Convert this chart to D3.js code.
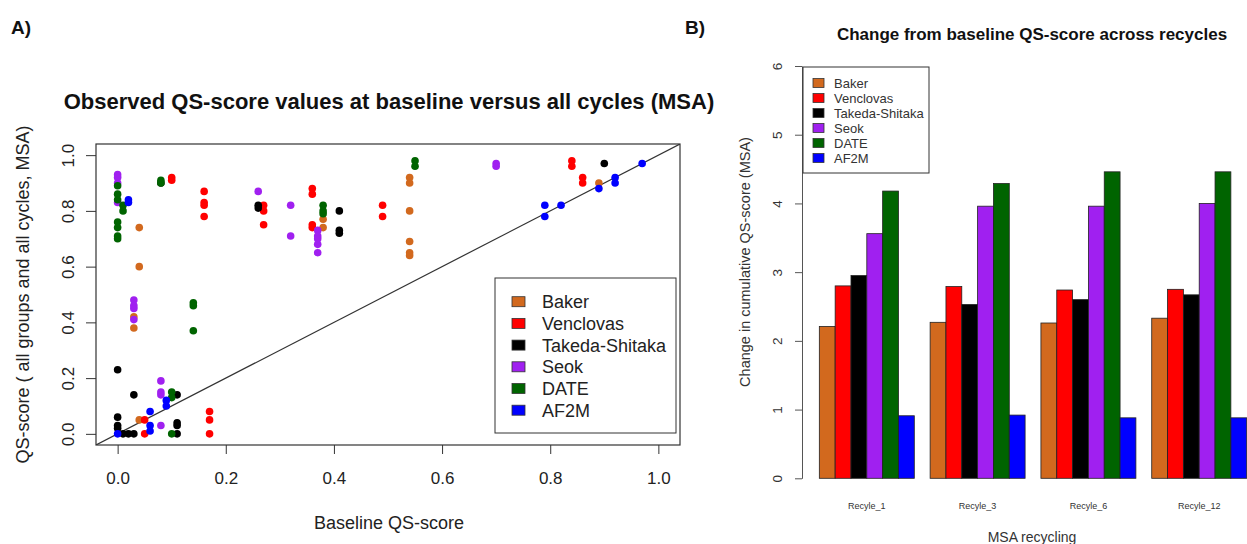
<!DOCTYPE html>
<html>
<head>
<meta charset="utf-8">
<script src="https://cdn.jsdelivr.net/npm/d3@7"></script>
<style>
body { margin: 0; background: #fff; }
text { font-family: "Liberation Sans", Arial, sans-serif; }
</style>
</head>
<body>
<div id="chart"></div>
<script>
var groups = ["Baker", "Venclovas", "Takeda-Shitaka", "Seok", "DATE", "AF2M"];
var colors = ["#D2691E", "#FF0000", "#000000", "#A020F0", "#006400", "#0000FF"];

// panel A: [baseline, cycle] QS-score per group
var bakerPts = [[0.04,0.74],[0.04,0.60],[0.03,0.42],[0.03,0.38],[0.04,0.05],[0.38,0.77],[0.38,0.74],
    [0.54,0.92],[0.54,0.90],[0.54,0.80],[0.54,0.69],[0.54,0.65],[0.54,0.64],[0.89,0.90]];
var venclovasPts = [[0.10,0.92],[0.10,0.91],[0.16,0.87],[0.16,0.83],[0.16,0.82],[0.16,0.78],[0.27,0.82],
    [0.27,0.80],[0.27,0.75],[0.36,0.88],[0.36,0.86],[0.36,0.75],[0.36,0.74],[0.49,0.82],[0.49,0.78],
    [0.84,0.98],[0.84,0.96],[0.86,0.92],[0.86,0.90],[0.05,0.05],[0.05,0.00],[0.17,0.08],[0.17,0.05],[0.17,0.00]];
var takedaPts = [[0.08,0.90],[0.26,0.82],[0.26,0.81],[0.41,0.80],[0.41,0.73],[0.41,0.72],[0.90,0.97],
    [0.00,0.23],[0.03,0.14],[0.00,0.06],[0.00,0.03],[0.00,0.02],[0.01,0.00],[0.02,0.00],[0.03,0.00],
    [0.11,0.14],[0.11,0.04],[0.11,0.03],[0.11,0.00]];
var seokPts = [[0.00,0.93],[0.00,0.92],[0.00,0.90],[0.00,0.83],[0.26,0.87],[0.32,0.82],[0.32,0.71],
    [0.37,0.73],[0.37,0.71],[0.37,0.70],[0.37,0.68],[0.37,0.65],[0.70,0.97],[0.70,0.96],
    [0.03,0.48],[0.03,0.46],[0.03,0.45],[0.03,0.41],[0.08,0.19],[0.08,0.15],[0.08,0.14],[0.08,0.03]];
var datePts = [[0.00,0.89],[0.00,0.86],[0.00,0.84],[0.00,0.76],[0.00,0.74],[0.00,0.71],[0.00,0.70],
    [0.01,0.82],[0.01,0.80],[0.08,0.91],[0.08,0.90],[0.14,0.47],[0.14,0.46],[0.14,0.37],
    [0.10,0.15],[0.10,0.13],[0.10,0.00],[0.38,0.82],[0.38,0.80],[0.38,0.79],[0.55,0.98],[0.55,0.96]];
var af2mPts = [[0.02,0.84],[0.02,0.83],[0.00,0.00],[0.06,0.08],[0.06,0.03],[0.06,0.01],[0.09,0.12],
    [0.09,0.10],[0.79,0.82],[0.79,0.78],[0.82,0.82],[0.89,0.88],[0.92,0.92],[0.92,0.90],[0.97,0.97]];
var ticksA = [0, 0.2, 0.4, 0.6, 0.8, 1.0];

// panel B: change in cumulative QS-score per recycle
var recycles = ["Recyle_1", "Recyle_3", "Recyle_6", "Recyle_12"];
var bakerChange = [2.21, 2.27, 2.26, 2.33];
var venclovasChange = [2.80, 2.79, 2.74, 2.75];
var takedaChange = [2.95, 2.53, 2.60, 2.67];
var seokChange = [3.56, 3.96, 3.96, 4.00];
var dateChange = [4.18, 4.29, 4.46, 4.46];
var af2mChange = [0.91, 0.92, 0.88, 0.88];
var ticksB = [0, 1, 2, 3, 4, 5, 6];

var allPts = [bakerPts, venclovasPts, takedaPts, seokPts, datePts, af2mPts];
var allChange = [bakerChange, venclovasChange, takedaChange, seokChange, dateChange, af2mChange];

var svg = d3.select("#chart").append("svg")
    .attr("width", 1247)
    .attr("height", 544);

svg.append("rect").attr("width", 1247).attr("height", 544).attr("fill", "#fff");

// ---------- panel A ----------
var xA = d3.scaleLinear().domain([-0.04, 1.04]).range([96, 680]);
var yA = d3.scaleLinear().domain([-0.04, 1.04]).range([445, 144]);

svg.append("text").attr("x", 11).attr("y", 34)
    .style("font-size", "19px").style("font-weight", "bold").attr("fill", "#111").text("A)");

svg.append("text").attr("x", 389).attr("y", 109).attr("text-anchor", "middle")
    .style("font-size", "22px").style("font-weight", "bold").attr("fill", "#111")
    .text("Observed QS-score values at baseline versus all cycles (MSA)");

svg.append("clipPath").attr("id", "clipA")
    .append("rect").attr("x", 96).attr("y", 144).attr("width", 584).attr("height", 301);

var gA = svg.append("g").attr("clip-path", "url(#clipA)");

gA.append("line")
    .attr("x1", xA(-0.04)).attr("y1", yA(-0.04))
    .attr("x2", xA(1.04)).attr("y2", yA(1.04))
    .attr("stroke", "#333").attr("stroke-width", 1.2);

allPts.forEach(function (pts, i) {
    gA.selectAll(".pt" + i)
        .data(pts)
        .enter().append("circle")
        .attr("cx", function (d) { return xA(d[0]); })
        .attr("cy", function (d) { return yA(d[1]); })
        .attr("r", 3.8)
        .attr("fill", colors[i]);
});

var axA = svg.append("g")
    .attr("transform", "translate(0,445)")
    .call(d3.axisBottom(xA).tickValues(ticksA).tickFormat(d3.format(".1f"))
        .tickSize(9).tickPadding(18).tickSizeOuter(0));
axA.select(".domain").remove();
axA.selectAll("line").attr("stroke", "#333");
axA.selectAll("text").style("font-size", "17px").attr("fill", "#222")
    .style("font-family", "'Liberation Sans', Arial, sans-serif");

var ayA = svg.append("g")
    .attr("transform", "translate(96,0)")
    .call(d3.axisLeft(yA).tickValues(ticksA).tickFormat(d3.format(".1f"))
        .tickSize(10).tickSizeOuter(0));
ayA.select(".domain").remove();
ayA.selectAll("line").attr("stroke", "#333");
ayA.selectAll("text")
    .attr("x", 0).attr("dy", "0.35em")
    .attr("text-anchor", "middle")
    .attr("transform", "translate(-28,0) rotate(-90)")
    .style("font-size", "17px").attr("fill", "#222")
    .style("font-family", "'Liberation Sans', Arial, sans-serif");

svg.append("rect")
    .attr("x", 96).attr("y", 144).attr("width", 584).attr("height", 301)
    .attr("fill", "none").attr("stroke", "#333").attr("stroke-width", 1.2);

svg.append("text").attr("x", 389).attr("y", 528.5).attr("text-anchor", "middle")
    .style("font-size", "18px").attr("fill", "#222").text("Baseline QS-score");

svg.append("text")
    .attr("transform", "translate(28.5,294.5) rotate(-90)")
    .attr("text-anchor", "middle")
    .style("font-size", "18px").attr("fill", "#222")
    .text("QS-score ( all groups and all cycles, MSA)");

// legend A
svg.append("rect")
    .attr("x", 495).attr("y", 278).attr("width", 181).attr("height", 155)
    .attr("fill", "#fff").attr("stroke", "#333").attr("stroke-width", 1);

var legA = svg.selectAll(".legA")
    .data(groups)
    .enter().append("g")
    .attr("transform", function (d, i) { return "translate(512," + (301.7 + i * 21.7) + ")"; });
legA.append("rect")
    .attr("x", 0).attr("y", -5).attr("width", 13).attr("height", 10)
    .attr("fill", function (d, i) { return colors[i]; })
    .attr("stroke", "#333").attr("stroke-width", 0.8);
legA.append("text")
    .attr("x", 30).attr("dy", "0.36em")
    .style("font-size", "18px").attr("fill", "#222")
    .text(function (d) { return d; });

// ---------- panel B ----------
var yB = d3.scaleLinear().domain([0, 6]).range([478.3, 66]);
var x0 = d3.scaleBand().domain(recycles)
    .range([803.5, 803.5 + 4 * 110.8])
    .paddingInner(1 / 7).paddingOuter(1 / 14).align(1);
var x1 = d3.scaleBand().domain(groups).range([0, x0.bandwidth()]);

svg.append("text").attr("x", 685).attr("y", 34)
    .style("font-size", "19px").style("font-weight", "bold").attr("fill", "#111").text("B)");

svg.append("text").attr("x", 1032).attr("y", 39.5).attr("text-anchor", "middle")
    .style("font-size", "17px").style("font-weight", "bold").attr("fill", "#111")
    .text("Change from baseline QS-score across recycles");

var gB = svg.append("g");
recycles.forEach(function (r, j) {
    gB.selectAll(".bar" + j)
        .data(groups)
        .enter().append("rect")
        .attr("x", function (d) { return x0(r) + x1(d); })
        .attr("width", x1.bandwidth())
        .attr("y", function (d, i) { return yB(allChange[i][j]); })
        .attr("height", function (d, i) { return yB(0) - yB(allChange[i][j]); })
        .attr("fill", function (d, i) { return colors[i]; })
        .attr("stroke", "#222").attr("stroke-width", 0.8);
});

var ayB = svg.append("g")
    .attr("transform", "translate(802,0)")
    .call(d3.axisLeft(yB).tickValues(ticksB).tickFormat(d3.format("d")).tickSize(7).tickSizeOuter(0));
ayB.select(".domain").attr("stroke", "#555");
ayB.selectAll("line").attr("stroke", "#555");
ayB.selectAll("text")
    .attr("x", 0).attr("dy", "0.35em")
    .attr("text-anchor", "middle")
    .attr("transform", "translate(-25,0) rotate(-90)")
    .style("font-size", "13.5px").attr("fill", "#333")
    .style("font-family", "'Liberation Sans', Arial, sans-serif");

var axB = svg.append("g")
    .attr("transform", "translate(0,478.3)")
    .call(d3.axisBottom(x0).tickSize(0).tickPadding(24));
axB.select(".domain").remove();
axB.selectAll("text").style("font-size", "9px").attr("fill", "#333")
    .style("font-family", "'Liberation Sans', Arial, sans-serif");

svg.append("text").attr("x", 1032).attr("y", 542).attr("text-anchor", "middle")
    .style("font-size", "14px").attr("fill", "#333").text("MSA recycling");

svg.append("text")
    .attr("transform", "translate(750,262) rotate(-90)")
    .attr("text-anchor", "middle")
    .style("font-size", "14.5px").attr("fill", "#333")
    .text("Change in cumulative QS-score (MSA)");

// legend B
svg.append("rect")
    .attr("x", 803).attr("y", 67).attr("width", 126).attr("height", 106)
    .attr("fill", "#fff").attr("stroke", "#333").attr("stroke-width", 1);

var legB = svg.selectAll(".legB")
    .data(groups)
    .enter().append("g")
    .attr("transform", function (d, i) { return "translate(813," + (83 + i * 15) + ")"; });
legB.append("rect")
    .attr("x", 0).attr("y", -4.5).attr("width", 11).attr("height", 9)
    .attr("fill", function (d, i) { return colors[i]; })
    .attr("stroke", "#333").attr("stroke-width", 0.8);
legB.append("text")
    .attr("x", 21).attr("dy", "0.36em")
    .style("font-size", "13px").attr("fill", "#333")
    .text(function (d) { return d; });
</script>
</body>
</html>
